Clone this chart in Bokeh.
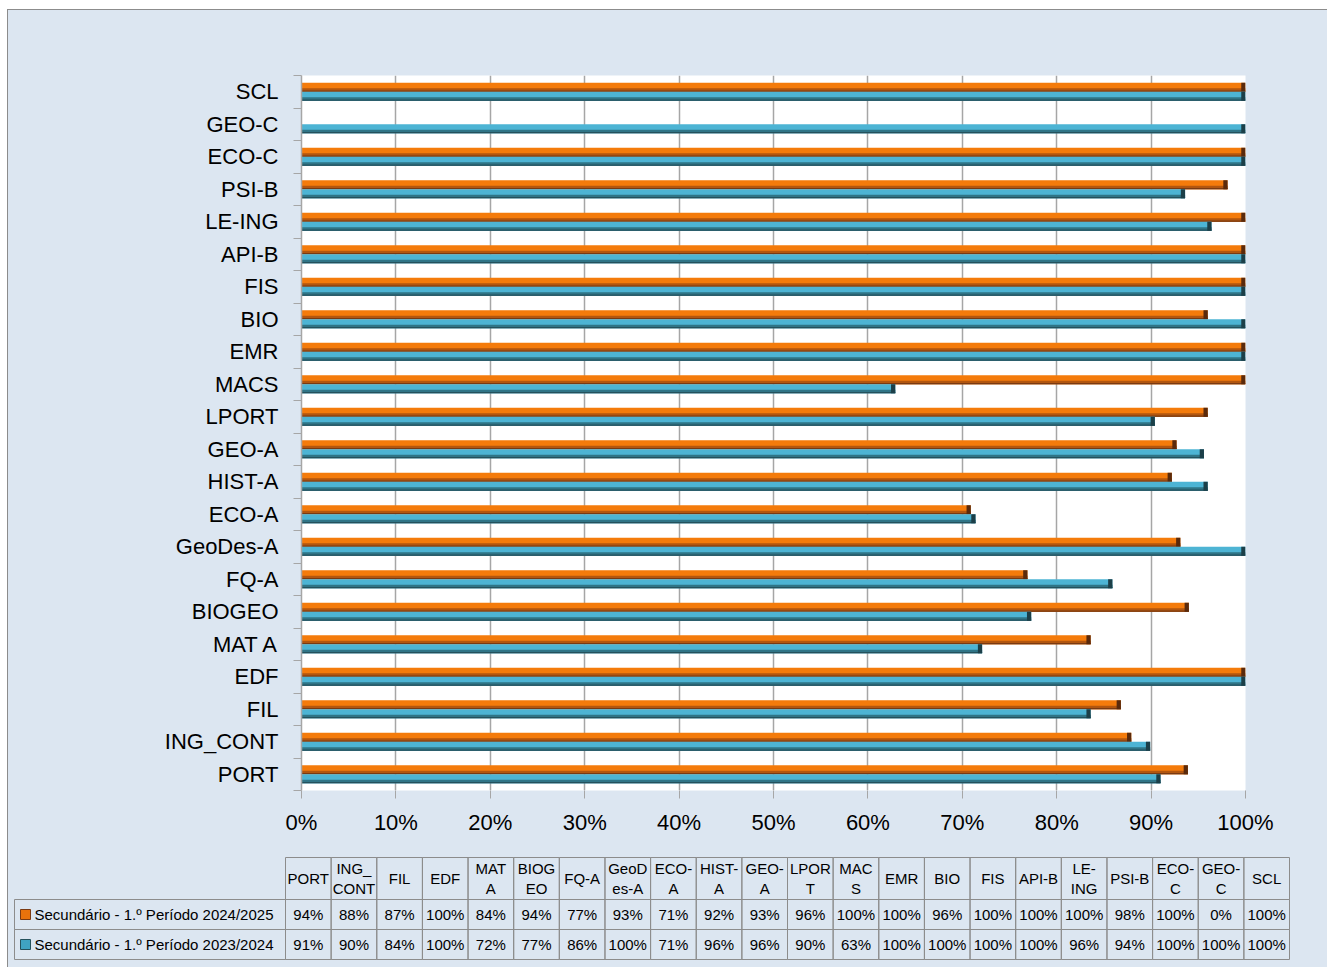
from bokeh.plotting import figure
from bokeh.models import Range1d, FixedTicker, ColumnDataSource
from bokeh.layouts import column
from bokeh.embed import file_html
from bokeh.resources import INLINE
from bokeh.core.properties import value

# ---------------- data ----------------
categories = ["PORT", "ING_CONT", "FIL", "EDF", "MAT A", "BIOGEO", "FQ-A", "GeoDes-A",
              "ECO-A", "HIST-A", "GEO-A", "LPORT", "MACS", "EMR", "BIO", "FIS", "API-B",
              "LE-ING", "PSI-B", "ECO-C", "GEO-C", "SCL"]
table_headers = ["PORT", "ING_\nCONT", "FIL", "EDF", "MAT\nA", "BIOG\nEO", "FQ-A", "GeoD\nes-A",
                 "ECO-\nA", "HIST-\nA", "GEO-\nA", "LPOR\nT", "MAC\nS", "EMR", "BIO", "FIS",
                 "API-B", "LE-\nING", "PSI-B", "ECO-\nC", "GEO-\nC", "SCL"]
series_names = ["Secundário - 1.º Período 2024/2025", "Secundário - 1.º Período 2023/2024"]
series_2425 = [93.9, 87.9, 86.8, 100, 83.6, 94.0, 76.9, 93.1, 70.9, 92.2, 92.7, 96.0,
               100, 100, 96.0, 100, 100, 100, 98.1, 100, 0, 100]
series_2324 = [91.0, 89.9, 83.6, 100, 72.1, 77.3, 85.9, 100, 71.4, 96.0, 95.6, 90.4,
               62.9, 100, 100, 100, 100, 96.4, 93.6, 100, 100, 100]
x_ticks = [0, 10, 20, 30, 40, 50, 60, 70, 80, 90, 100]

FONT = "Liberation Sans"
BG = "#dce6f1"
GRID = "#a6a6a6"
TXT = "#000000"

n = len(categories)
W = 1319

# ---------------- chart ----------------
p = figure(width=W, height=835, x_range=Range1d(0, 100), y_range=Range1d(-0.5, n - 0.5),
           output_backend="svg", toolbar_location=None,
           min_border_left=293, min_border_right=82, min_border_top=65, min_border_bottom=55,
           background_fill_color="white", border_fill_color=BG, outline_line_color=None)

bar_h = 0.277
ys = list(range(n))

def draw_series(vals, base_offset, bright, mid, dark, cap):
    bottom = [i + base_offset for i in ys]
    src = ColumnDataSource(dict(
        y=[b + bar_h / 2 for b in bottom], v=vals,
        ymid=[b + bar_h * 0.19 for b in bottom],
        ylow=[b + bar_h * 0.07 for b in bottom],
        capl=[max(v - 0.45, 0) for v in vals],
    ))
    p.hbar(y="y", left=0, right="v", height=bar_h, source=src, fill_color=bright, line_color=None)
    p.hbar(y="ymid", left=0, right="v", height=bar_h * 0.38, source=src, fill_color=mid, line_color=None)
    p.hbar(y="ylow", left=0, right="v", height=bar_h * 0.14, source=src, fill_color=dark, line_color=None)
    p.hbar(y="y", left="capl", right="v", height=bar_h, source=src, fill_color=cap, line_color=None)

draw_series(series_2425, 0.0, "#f47b0b", "#b2560f", "#7a3a12", "#5a2a0c")
draw_series(series_2324, -bar_h, "#4db4d4", "#2f7486", "#24515c", "#1c3f48")

# axes
p.xaxis.ticker = FixedTicker(ticks=x_ticks)
p.xaxis.major_label_overrides = {t: f"{t}%" for t in x_ticks}
p.xaxis.axis_line_color = None
p.xaxis.major_tick_line_color = GRID
p.xaxis.major_tick_in = 0
p.xaxis.major_tick_out = 8
p.xaxis.minor_tick_line_color = None
p.xaxis.major_label_standoff = 11
p.xaxis.major_label_text_font = FONT
p.xaxis.major_label_text_font_size = "22px"
p.xaxis.major_label_text_color = TXT

p.yaxis.ticker = FixedTicker(ticks=ys, minor_ticks=[i - 0.5 for i in range(n + 1)])
p.yaxis.major_label_overrides = {i: c for i, c in enumerate(categories)}
p.yaxis.axis_line_color = GRID
p.yaxis.axis_line_width = 1.5
p.yaxis.major_tick_line_color = None
p.yaxis.minor_tick_line_color = GRID
p.yaxis.minor_tick_in = 0
p.yaxis.minor_tick_out = 8
p.yaxis.major_label_standoff = 15
p.yaxis.major_label_text_font = FONT
p.yaxis.major_label_text_font_size = "22px"
p.yaxis.major_label_text_color = TXT

p.xgrid.ticker = FixedTicker(ticks=x_ticks[1:])
p.xgrid.grid_line_color = GRID
p.xgrid.grid_line_width = 1.5
p.ygrid.grid_line_color = None

# ---------------- data table ----------------
TH = 122
t = figure(width=W, height=TH, x_range=Range1d(0, W), y_range=Range1d(TH, 0),
           output_backend="svg", toolbar_location=None, min_border=0,
           x_axis_type=None, y_axis_type=None,
           background_fill_color=BG, border_fill_color=BG, outline_line_color=None)
t.grid.visible = False

for fig in (p, t):
    try:
        fig.frame_align = False
    except Exception:
        pass

col0 = 277.0
col_w = (1281.0 - col0) / n
head_top, row1_top, row2_top, tbl_bot = 12, 54, 84, 114
leg_left = 6

xl = [col0 + k * col_w for k in range(n)]
xr = [col0 + (k + 1) * col_w for k in range(n)]
xc = [col0 + (k + 0.5) * col_w for k in range(n)]

LINE = "#8c8c8c"
for top, bot in [(head_top, row1_top), (row1_top, row2_top), (row2_top, tbl_bot)]:
    t.quad(left=xl, right=xr, top=[top] * n, bottom=[bot] * n,
           fill_color=None, line_color=LINE, line_width=1)
t.quad(left=[leg_left, leg_left], right=[col0, col0], top=[row1_top, row2_top],
       bottom=[row2_top, tbl_bot], fill_color=None, line_color=LINE, line_width=1)

TFS = "15px"
t.text(x=xc, y=[(head_top + row1_top) / 2] * n, text=table_headers,
       text_align="center", text_baseline="middle", text_font=value(FONT),
       text_font_size=TFS, text_color=TXT, text_line_height=1.2)

def pct(v):
    return f"{int(v + 0.5)}%"

t.text(x=xc, y=[(row1_top + row2_top) / 2] * n, text=[pct(v) for v in series_2425],
       text_align="center", text_baseline="middle", text_font=value(FONT),
       text_font_size=TFS, text_color=TXT)
t.text(x=xc, y=[(row2_top + tbl_bot) / 2] * n, text=[pct(v) for v in series_2324],
       text_align="center", text_baseline="middle", text_font=value(FONT),
       text_font_size=TFS, text_color=TXT)

leg_y = [(row1_top + row2_top) / 2, (row2_top + tbl_bot) / 2]
t.scatter(x=[17, 17], y=leg_y, marker="square", size=10,
          fill_color=["#e8720c", "#3fa3c2"], line_color=["#7a3a12", "#24515c"], line_width=1)
t.text(x=[26, 26], y=leg_y, text=series_names, text_align="left", text_baseline="middle",
       text_font=value(FONT), text_font_size=TFS, text_color=TXT)

layout = column(p, t, spacing=0,
                styles={"border-top": "1px solid #8c8c8c", "border-left": "1px solid #8c8c8c",
                        "background-color": BG, "margin-left": "7px", "margin-top": "9px"})

open("out.html", "w").write(file_html(layout, INLINE))
